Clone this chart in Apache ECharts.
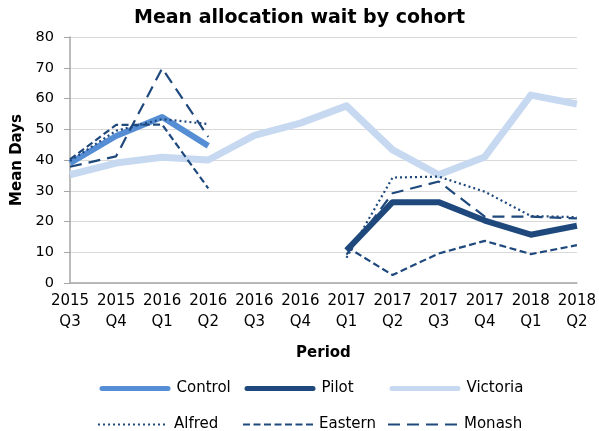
<!DOCTYPE html>
<html><head><meta charset="utf-8">
<script src="https://cdn.jsdelivr.net/npm/echarts@6/dist/echarts.min.js"></script>
<style>html,body{margin:0;padding:0;background:#fff}#c{width:599px;height:431px}</style>
</head><body><div id="c"></div>
<script>
var categories = ['2015\nQ3','2015\nQ4','2016\nQ1','2016\nQ2','2016\nQ3','2016\nQ4','2017\nQ1','2017\nQ2','2017\nQ3','2017\nQ4','2018\nQ1','2018\nQ2'];
var control  = [39, 47.8, 54, 44.6, '-', '-', '-', '-', '-', '-', '-', '-'];
var pilot    = ['-', '-', '-', '-', '-', '-', 10.6, 26.3, 26.3, 20.3, 15.7, 18.6];
var victoria = [35.2, 39, 40.9, 40, 48, 52, 57.6, 43.3, 35.2, 41, 61.1, 58.2];
var alfred   = [39.7, 49.5, 53.3, 51.7, '-', '-', 8.2, 34.3, 34.6, 29.7, 21.8, 21.4];
var eastern  = [40.2, 51.4, 51.5, 30.8, '-', '-', 11.8, 2.6, 9.6, 13.7, 9.4, 12.3];
var monash   = [37.8, 41.2, 69.8, 47.5, '-', '-', 9.2, 29.2, 33, 21.6, 21.6, 21];
var yTicks = [0, 10, 20, 30, 40, 50, 60, 70, 80];

var font = 'DejaVu Sans';
var dark = '#1F497D';
function line(name, data, color, width, type, z) {
  return {name: name, type: 'line', data: data, symbol: 'none', z: z,
    connectNulls: false, animation: false,
    lineStyle: {color: color, width: width, type: type, cap: 'butt', join: 'round'},
    itemStyle: {color: color}};
}
function leg(name, left, top, thick) {
  var o = {data: [name], left: left, top: top, itemWidth: 70, itemHeight: 14, itemGap: 0,
    itemStyle: {opacity: 0},
    textStyle: {fontFamily: font, fontSize: 15, color: '#000', padding: [0,0,0,1]}, padding: 0};
  if (thick) {
    o.left = left + 2.5;
    o.itemWidth = 66;
    o.lineStyle = {width: 5, cap: 'round'};
    o.textStyle.padding = [0, 0, 0, 3.5];
  }
  return o;
}
var chart = echarts.init(document.getElementById('c'));
chart.setOption({
  animation: false,
  title: {text: 'Mean allocation wait by cohort', left: 'center', top: 4,
    textStyle: {fontFamily: font, fontSize: 19, fontWeight: 'bold', color: '#000'}},
  grid: {left: 70, right: 21, top: 37, bottom: 148},
  legend: [leg('Control', 97, 381, true), leg('Pilot', 242, 381, true), leg('Victoria', 387, 381, true),
           leg('Alfred', 97, 417), leg('Eastern', 242, 417), leg('Monash', 387, 417)],
  xAxis: {type: 'category', data: categories, boundaryGap: false,
    name: 'Period', nameLocation: 'middle', nameGap: 63,
    nameTextStyle: {fontFamily: font, fontSize: 15, fontWeight: 'bold', color: '#000'},
    axisLine: {lineStyle: {color: '#a6a6a6', width: 1.5}},
    axisTick: {show: false},
    axisLabel: {fontFamily: font, fontSize: 15, color: '#000', interval: 0, lineHeight: 21, margin: 8}},
  yAxis: {type: 'value', min: yTicks[0], max: yTicks[yTicks.length-1], interval: 10,
    name: 'Mean Days', nameLocation: 'middle', nameGap: 45,
    nameTextStyle: {fontFamily: font, fontSize: 15, fontWeight: 'bold', color: '#000'},
    axisLine: {show: true, lineStyle: {color: '#a6a6a6', width: 1.5}},
    axisTick: {show: true, length: 6, lineStyle: {color: '#a6a6a6'}},
    axisLabel: {fontFamily: font, fontSize: 14.5, color: '#000', margin: 16},
    splitLine: {lineStyle: {color: '#d9d9d9', width: 1}}},
  series: [
    line('Victoria', victoria, '#C6D9F1', 7, 'solid', 1),
    line('Control', control, '#558ED5', 6, 'solid', 2),
    line('Pilot', pilot, dark, 6, 'solid', 3),
    line('Alfred', alfred, dark, 2.2, [2, 3], 4),
    line('Eastern', eastern, dark, 2.2, [7, 3.5], 5),
    line('Monash', monash, dark, 2.2, [12, 7], 6)
  ]
});
</script></body></html>
